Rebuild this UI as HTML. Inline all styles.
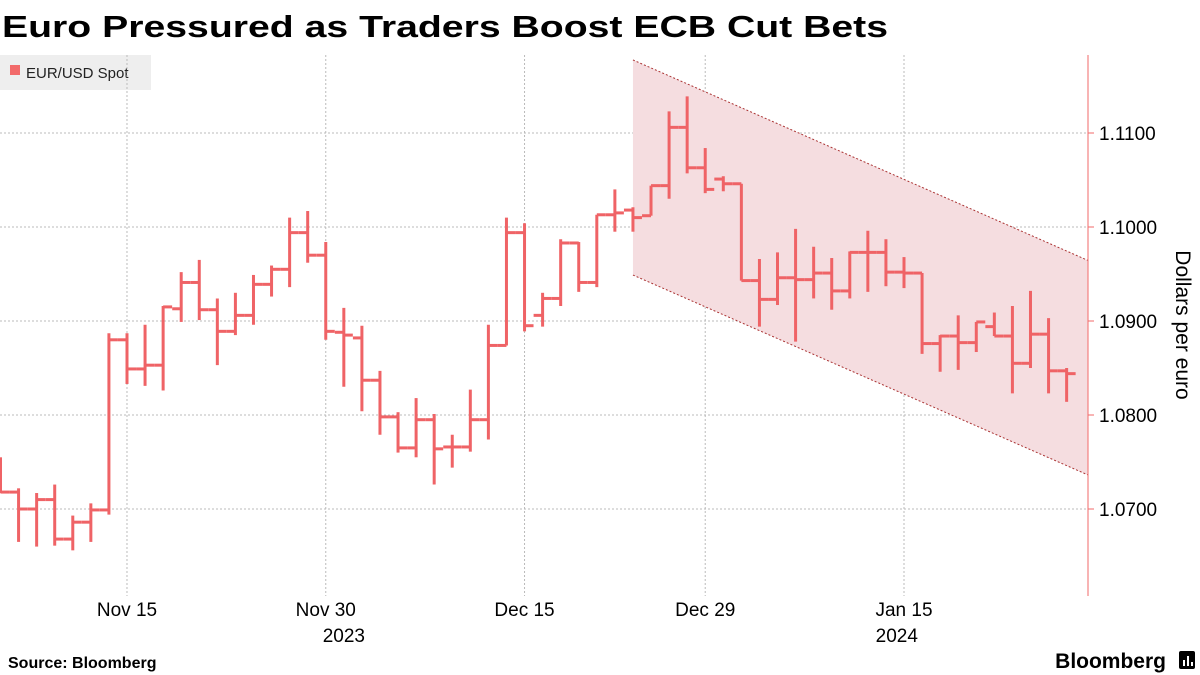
<!DOCTYPE html>
<html><head><meta charset="utf-8"><style>
body{margin:0;background:#fff;font-family:"Liberation Sans",sans-serif;}
svg{display:block}
</style></head><body>
<svg width="1200" height="675" viewBox="0 0 1200 675">
<text x="2" y="37" font-size="31" font-weight="bold" textLength="886" lengthAdjust="spacingAndGlyphs" fill="#000">Euro Pressured as Traders Boost ECB Cut Bets</text>
<g>
<rect x="0" y="55" width="151" height="35" fill="#eeeeee"/>
<rect x="10" y="65" width="10" height="10" fill="#f26a6a"/>
<text x="26" y="78" font-size="15" fill="#222">EUR/USD Spot</text>
</g>
<g id="grid"></g>
<g id="channel"></g>
<g id="bars"></g>
<g id="axes"></g>
<text transform="translate(1176,325) rotate(90)" text-anchor="middle" font-size="21" fill="#000">Dollars per euro</text>
<text x="8" y="668" font-size="16" font-weight="bold" fill="#000">Source: Bloomberg</text>
<text x="1166" y="668" text-anchor="end" font-size="21" font-weight="bold" fill="#000">Bloomberg</text>
<g><rect x="1179" y="651" width="16" height="18" rx="2" fill="#000"/><rect x="1183" y="660" width="2" height="6" fill="#fff"/><rect x="1187" y="656" width="2" height="10" fill="#fff"/><rect x="1191" y="662" width="2" height="4" fill="#fff"/></g>
</svg>
<script>
const opens=[1.0736,1.0718,1.0700,1.0710,1.0668,1.0686,1.0699,1.0880,1.0849,1.0853,1.0913,1.0941,1.0912,1.0889,1.0906,1.0939,1.0955,1.0994,1.0970,1.0888,1.0882,1.0837,1.0798,1.0765,1.0795,1.0766,1.0766,1.0795,1.0874,1.0994,1.0906,1.0924,1.0983,1.0941,1.1013,1.1018,1.1012,1.1044,1.1106,1.1063,1.1051,1.1046,1.0943,1.0923,1.0946,1.0944,1.0951,1.0932,1.0973,1.0973,1.0952,1.0951,1.0876,1.0884,1.0877,1.0894,1.0884,1.0855,1.0886,1.0847];
const highs=[1.0755,1.0722,1.0717,1.0726,1.0693,1.0706,1.0887,1.0887,1.0896,1.0916,1.0952,1.0965,1.0924,1.0930,1.0949,1.0959,1.1010,1.1017,1.0984,1.0914,1.0895,1.0847,1.0803,1.0818,1.0801,1.0779,1.0827,1.0896,1.1010,1.1004,1.0930,1.0987,1.0984,1.1013,1.1040,1.1021,1.1044,1.1123,1.1139,1.1084,1.1054,1.1046,1.0966,1.0973,1.0998,1.0979,1.0967,1.0974,1.0996,1.0987,1.0968,1.0951,1.0885,1.0906,1.0899,1.0909,1.0916,1.0932,1.0903,1.0850];
const lows=[1.0717,1.0665,1.0660,1.0661,1.0656,1.0665,1.0694,1.0833,1.0831,1.0826,1.0899,1.0901,1.0853,1.0885,1.0896,1.0926,1.0936,1.0962,1.0880,1.0830,1.0804,1.0779,1.0760,1.0755,1.0726,1.0744,1.0761,1.0774,1.0874,1.0889,1.0894,1.0916,1.0931,1.0936,1.0995,1.0995,1.1012,1.1030,1.1057,1.1036,1.1038,1.0943,1.0894,1.0917,1.0878,1.0924,1.0912,1.0924,1.0931,1.0937,1.0935,1.0865,1.0846,1.0848,1.0867,1.0884,1.0823,1.0850,1.0823,1.0814];
const closes=[1.0718,1.0700,1.0710,1.0668,1.0686,1.0699,1.0880,1.0849,1.0853,1.0915,1.0941,1.0912,1.0889,1.0906,1.0939,1.0955,1.0994,1.0970,1.0889,1.0885,1.0837,1.0798,1.0765,1.0795,1.0764,1.0766,1.0795,1.0874,1.0994,1.0895,1.0924,1.0983,1.0941,1.1013,1.1015,1.1010,1.1044,1.1106,1.1063,1.1040,1.1046,1.0943,1.0923,1.0946,1.0944,1.0951,1.0932,1.0973,1.0973,1.0952,1.0951,1.0876,1.0884,1.0877,1.0899,1.0884,1.0855,1.0886,1.0847,1.0844];
const yTicks=[1.07,1.08,1.09,1.10,1.11];
const yTickLabels=["1.0700","1.0800","1.0900","1.1000","1.1100"];
const xTickIdx=[7,18,29,39,50];
const xTickLabels=["Nov 15","Nov 30","Dec 15","Dec 29","Jan 15"];
const yearLabels=["2023","2024"];
const yearIdx=[19,49.6];
const channelStartIdx=35;
const channelUpper=[1.11777,1.09644];
const channelLower=[1.09489,1.07362];

const NS="http://www.w3.org/2000/svg";
const Y=v=>509-(v-1.07)*9400;
const X=i=>0.5+i*18.07;
const PLOT_R=1088;
function mk(tag,attrs,parent){const e=document.createElementNS(NS,tag);for(const k in attrs)e.setAttribute(k,attrs[k]);parent.appendChild(e);return e;}
const grid=document.getElementById('grid'),axes=document.getElementById('axes'),bars=document.getElementById('bars'),ch=document.getElementById('channel');

yTicks.forEach((v,k)=>{
  const l=mk('line',{x1:0,x2:PLOT_R,y1:Y(v),y2:Y(v),stroke:'#bbb','stroke-width':1,'stroke-dasharray':'2,2'},grid);
  
  
  const t=mk('line',{x1:PLOT_R,x2:PLOT_R+6,y1:Y(v),y2:Y(v),stroke:'#f26a6a','stroke-width':1},axes);
  
  
  const tx=mk('text',{x:1099,y:Y(v)+7,'font-size':19,fill:'#000'},axes);tx.textContent=yTickLabels[k];
  
  
});
xTickIdx.forEach((i,k)=>{
  const l=mk('line',{x1:X(i),x2:X(i),y1:55,y2:596,stroke:'#bbb','stroke-width':1,'stroke-dasharray':'2,2'},grid);
  
  
  const tx=mk('text',{x:X(i),y:616,'font-size':19,'text-anchor':'middle',fill:'#000'},axes);tx.textContent=xTickLabels[k];
  
  
});
yearIdx.forEach((i,k)=>{
  const tx=mk('text',{x:X(i),y:642,'font-size':19,'text-anchor':'middle',fill:'#000'},axes);tx.textContent=yearLabels[k];
  
  
});
const ax=mk('line',{x1:PLOT_R,x2:PLOT_R,y1:55,y2:596,stroke:'#f26a6a','stroke-width':1},axes);



const cx0=X(channelStartIdx),cx1=PLOT_R;
const poly=mk('polygon',{points:`${cx0},${Y(channelUpper[0])} ${cx1},${Y(channelUpper[1])} ${cx1},${Y(channelLower[1])} ${cx0},${Y(channelLower[0])}`,fill:'#f5dde0'},ch);


[channelUpper,channelLower].forEach((c,k)=>{
  const l=mk('line',{x1:cx0,y1:Y(c[0]),x2:cx1,y2:Y(c[1]),stroke:'#a33','stroke-width':1,'stroke-dasharray':'2,2'},ch);
  
  
});

const col='#ef6366';
opens.forEach((o,i)=>{
  const g=mk('g',{stroke:col,'stroke-width':3,fill:'none'},bars);
  
  
  const x=X(i);
  mk('line',{x1:x,x2:x,y1:Y(highs[i]),y2:Y(lows[i])},g);
  mk('line',{x1:x-9,x2:x,y1:Y(o),y2:Y(o)},g);
  mk('line',{x1:x,x2:x+9,y1:Y(closes[i]),y2:Y(closes[i])},g);
});
</script>
</body></html>
